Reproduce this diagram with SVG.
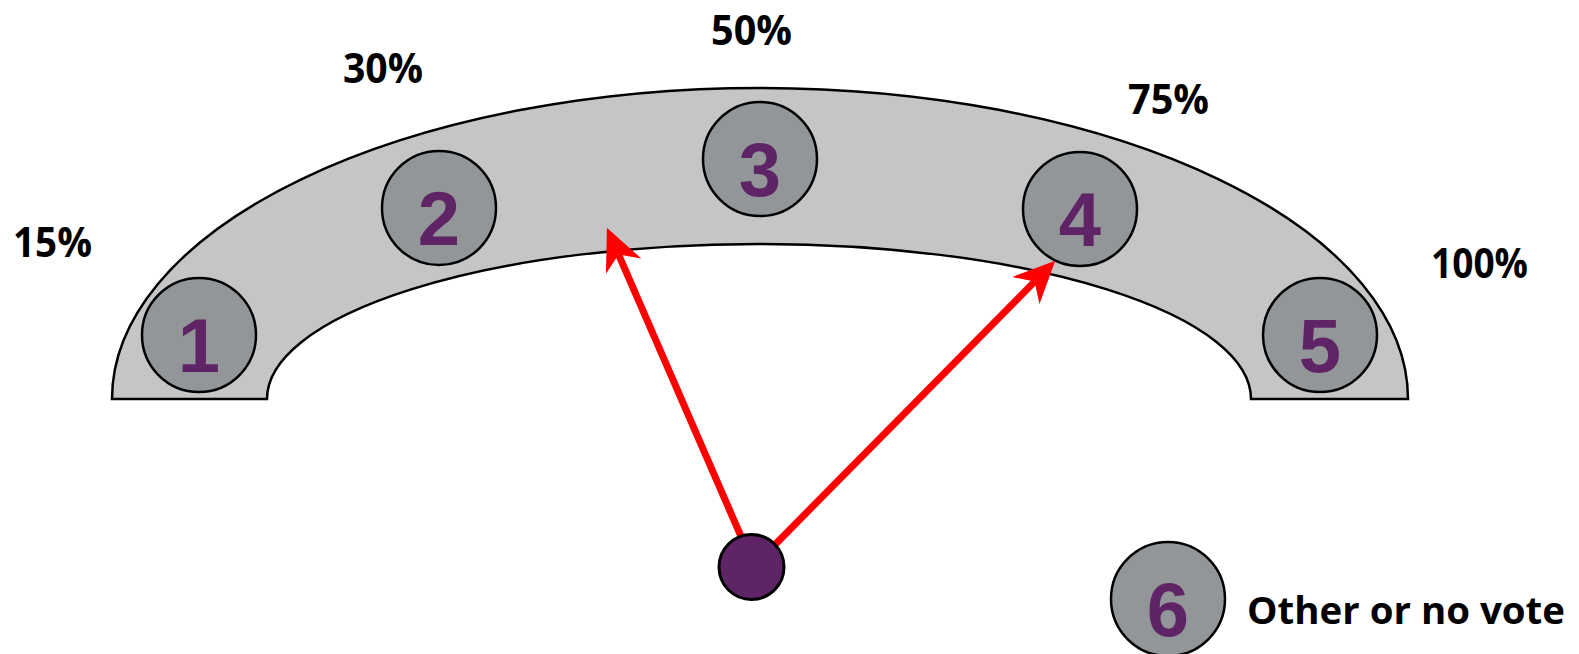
<svg xmlns="http://www.w3.org/2000/svg" width="1579" height="654" viewBox="0 0 1579 654">
<defs>
<style>
.node circle{fill:#939698;stroke:#000;stroke-width:2.5}
.num{font-family:"Liberation Sans",Arial,sans-serif;font-weight:bold;font-size:76px;fill:#5f2466;text-anchor:middle}
.lbl{font-family:"Open Sans","Liberation Sans",sans-serif;font-weight:bold;font-size:42px;fill:#000}
.legend{font-size:38px}
.arrow{stroke:#ff0000;stroke-width:7;fill:none;marker-end:url(#ah)}
</style>
<marker id="ah" viewBox="0 0 10 10" refX="3" refY="5" markerWidth="6" markerHeight="5.5" markerUnits="strokeWidth" orient="auto" preserveAspectRatio="none">
<path d="M0,0 L10,5 L0,10 L3,5 Z" fill="#ff0000"/>
</marker>
</defs>
<rect width="1579" height="654" fill="#fff"/>
<g id="band">
<path d="M112,399 A648,311 0 0 1 1408,399 L1251,399 A492,155 0 0 0 267,399 Z" fill="#c4c5c7" stroke="#000" stroke-width="2.5"/>
</g>
<g id="n1" class="node"><circle cx="199" cy="335" r="57"/><text class="num" x="199" y="372">1</text></g>
<g id="n2" class="node"><circle cx="439" cy="208" r="57"/><text class="num" x="439" y="245">2</text></g>
<g id="n3" class="node"><circle cx="760" cy="159" r="57"/><text class="num" x="760" y="196">3</text></g>
<g id="n4" class="node"><circle cx="1080" cy="209" r="57"/><text class="num" x="1080" y="246">4</text></g>
<g id="n5" class="node"><circle cx="1320" cy="335" r="57"/><text class="num" x="1320" y="372">5</text></g>
<g id="n6" class="node"><circle cx="1168" cy="599" r="57"/><text class="num" x="1168" y="636">6</text></g>
<g id="labels">
<text class="lbl" x="13" y="257" textLength="79" lengthAdjust="spacingAndGlyphs">15%</text>
<text class="lbl" x="343" y="83" textLength="80" lengthAdjust="spacingAndGlyphs">30%</text>
<text class="lbl" x="711" y="45" textLength="81" lengthAdjust="spacingAndGlyphs">50%</text>
<text class="lbl" x="1128" y="114" textLength="81" lengthAdjust="spacingAndGlyphs">75%</text>
<text class="lbl" x="1431" y="278" textLength="97" lengthAdjust="spacingAndGlyphs">100%</text>
<text class="lbl legend" x="1247" y="624" textLength="318" lengthAdjust="spacingAndGlyphs">Other or no vote</text>
</g>
<g id="connectors">
<line class="arrow" x1="743" y1="541" x2="618.6" y2="254.6"/>
<line class="arrow" x1="775.6" y1="544" x2="1034.6" y2="281.6"/>
</g>
<g id="pivot"><circle cx="751.5" cy="567" r="32.5" fill="#5f2466" stroke="#000" stroke-width="3"/></g>
</svg>
